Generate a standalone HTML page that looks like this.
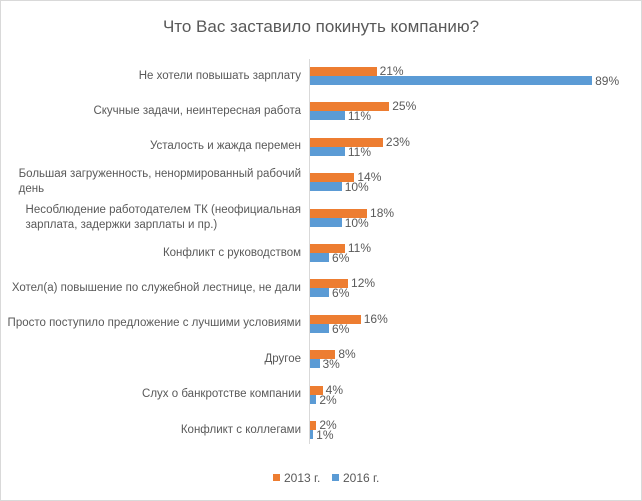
<!DOCTYPE html>
<html><head><meta charset="utf-8"><style>
html,body{margin:0;padding:0;background:#fff;}
#c{position:relative;width:640px;height:499px;border:1px solid #d9d9d9;overflow:hidden;font-family:"Liberation Sans",sans-serif;color:#595959;}
.t{position:absolute;left:0;width:640px;top:16px;text-align:center;font-size:17px;}
.cat{position:absolute;right:340px;width:300px;text-align:right;font-size:11.5px;line-height:15px;white-space:nowrap;}
.cat span{display:inline-block;text-align:left;}
.b{position:absolute;height:9px;}
.o{background:#ed7d31;}.u{background:#5b9bd5;}
.v{position:absolute;font-size:12px;line-height:12px;}
.ax{position:absolute;left:308px;top:58px;width:1px;height:385px;background:#d9d9d9;}
</style></head><body><div id="c">
<div class="t">Что Вас заставило покинуть компанию?</div>
<div class="ax"></div>
<div id="rows"></div>
<div style="position:absolute;left:272px;top:473px;width:7px;height:7px;background:#ed7d31"></div>
<div class="v" style="left:283px;top:471px">2013 г.</div>
<div style="position:absolute;left:331px;top:473px;width:7px;height:7px;background:#5b9bd5"></div>
<div class="v" style="left:342px;top:471px">2016 г.</div>
<script>
var d=[["Не хотели повышать зарплату",21,89],["Скучные задачи, неинтересная работа",25,11],["Усталость и жажда перемен",23,11],["Большая загруженность, ненормированный рабочий<br>день",14,10],["Несоблюдение работодателем ТК (неофициальная<br>зарплата, задержки зарплаты и пр.)",18,10],["Конфликт с руководством",11,6],["Хотел(а) повышение по служебной лестнице, не дали",12,6],["Просто поступило предложение с лучшими условиями",16,6],["Другое",8,3],["Слух о банкротстве компании",4,2],["Конфликт с коллегами",2,1]];
var h="";
d.forEach(function(r,i){var y=66+i*35.4;var s=3.17;
var two=r[0].indexOf("<br>")>=0;
h+='<div class="cat" style="top:'+(y+9-(two?15:7.5))+'px"><span>'+r[0]+'</span></div>';
h+='<div class="b o" style="left:309px;top:'+y+'px;width:'+(r[1]*s)+'px"></div>';
h+='<div class="b u" style="left:309px;top:'+(y+9)+'px;width:'+(r[2]*s)+'px"></div>';
h+='<div class="v" style="left:'+(309+r[1]*s+3)+'px;top:'+(y-2)+'px">'+r[1]+'%</div>';
h+='<div class="v" style="left:'+(309+r[2]*s+3)+'px;top:'+(y+8)+'px">'+r[2]+'%</div>';});
document.getElementById("rows").innerHTML=h;
</script>
</div></body></html>
